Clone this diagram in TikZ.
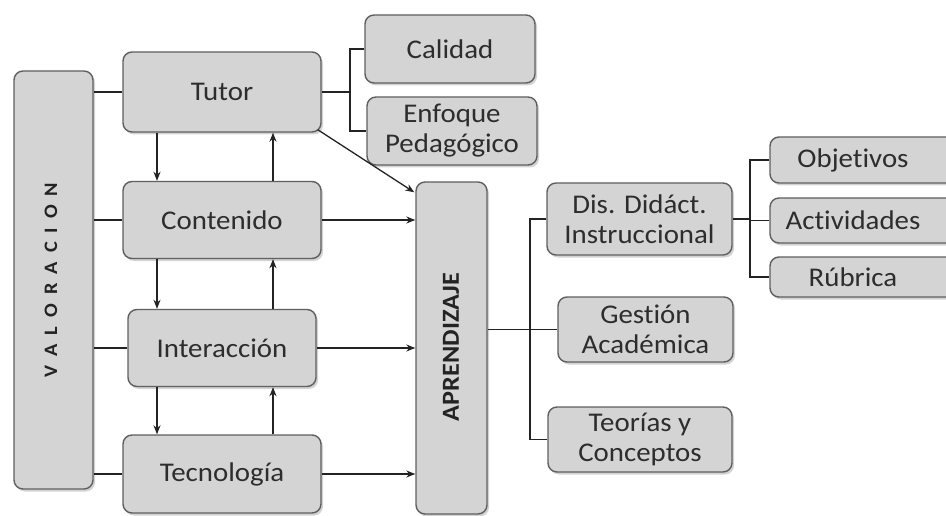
\documentclass[tikz,border=0pt]{standalone}
\usepackage{fontspec}
\setmainfont{Carlito}[Ligatures=NoCommon,FakeStretch=1.07]
\usetikzlibrary{shadows,arrows.meta,calc}
\definecolor{boxfill}{RGB}{212,212,212}
\definecolor{boxline}{RGB}{95,95,95}
\definecolor{txt}{RGB}{45,45,45}
\definecolor{conn}{RGB}{35,35,35}
\begin{document}
\begin{tikzpicture}[x=1pt,y=-1pt,
  box/.style={draw=boxline,line width=1.4pt,fill=boxfill,rounded corners=9pt,
    drop shadow={shadow xshift=2pt,shadow yshift=-2.5pt,opacity=0.35},
    text=txt,align=center,inner sep=0pt,
    font=\fontsize{27}{30}\selectfont},
  conline/.style={draw=conn,line width=1.3pt},
  arr/.style={conline,-{Stealth[length=9pt,width=7pt]}}]
\useasboundingbox (0,0) rectangle (946,516);
\begin{scope}
\clip (0,0) rectangle (946,516);
% left column
\node[box,minimum width=79pt,minimum height=418pt] (valor) at (53.5,280) {};
\node[rotate=90,text=conn,font=\bfseries\fontsize{19}{21}\selectfont] at (51,280)
  {V\hspace{9pt}A\hspace{9pt}L\hspace{9pt}O\hspace{9pt}R\hspace{9pt}A\hspace{9pt}C\hspace{9pt}I\hspace{9pt}O\hspace{9pt}N};
\node[box,minimum width=198pt,minimum height=80pt] (tutor) at (222,92) {Tutor};
\node[box,minimum width=198pt,minimum height=77pt] (cont) at (222,220) {Contenido};
\node[box,minimum width=188pt,minimum height=77pt] (inter) at (222,348) {Interacción};
\node[box,minimum width=198pt,minimum height=78pt] (tecno) at (222,474) {Tecnología};
% top
\node[box,minimum width=170pt,minimum height=68pt] (calidad) at (450,49) {Calidad};
\node[box,minimum width=170pt,minimum height=68pt] (enfoque) at (452,131) {Enfoque\\Pedagógico};
% center
\node[box,minimum width=71pt,minimum height=332pt] (aprend) at (451.5,348) {};
\node[rotate=90,text=conn,font=\bfseries\fontsize{24.5}{26}\selectfont] at (451,347) {APRENDIZAJE};
% right
\node[box,minimum width=185pt,minimum height=72pt] (dis) at (639.5,219) {Dis. Didáct.\\Instruccional};
\node[box,minimum width=175pt,minimum height=65pt] (gest) at (645.5,329.5) {Gestión\\Académica};
\node[box,minimum width=184pt,minimum height=65pt] (teor) at (640,439.5) {Teorías y\\Conceptos};
\node[box,minimum width=192pt,minimum height=46pt] (obj) at (866,160) {\hspace*{-26pt}Objetivos};
\node[box,minimum width=192pt,minimum height=45pt] (act) at (866,220.5) {\hspace*{-26pt}Actividades};
\node[box,minimum width=192pt,minimum height=40pt] (rub) at (866,277) {\hspace*{-26pt}Rúbrica};
\end{scope}
% bracket x positions
\coordinate (b1) at (350,0);
\coordinate (b2) at (530,0);
\coordinate (b3) at (750,0);
% valoracion links
\foreach \n in {tutor,cont,inter,tecno}
  \draw[conline] (valor.east |- \n.west) -- (\n.west);
% vertical arrows
\coordinate (dx) at (157,0);
\coordinate (ux) at (273,0);
\draw[arr] (tutor.south -| dx) -- (cont.north -| dx);
\draw[arr] (cont.south -| dx) -- (inter.north -| dx);
\draw[arr] (inter.south -| dx) -- (tecno.north -| dx);
\draw[arr] (cont.north -| ux) -- (tutor.south -| ux);
\draw[arr] (inter.north -| ux) -- (cont.south -| ux);
\draw[arr] (tecno.north -| ux) -- (inter.south -| ux);
% to aprendizaje
\coordinate (tipd) at ($(aprend.north west)+(-1,11)$);
\draw[arr] ($(tutor.south east)+(-4,-3)$) -- (tipd);
\draw[arr] (cont.east) -- (cont.east -| aprend.west);
\draw[arr] (inter.east) -- (inter.east -| aprend.west);
\draw[arr] (tecno.east) -- (tecno.east -| aprend.west);
% tutor bracket
\draw[conline] (tutor.east) -- (tutor.east -| b1);
\draw[conline] (calidad.west) -- (calidad.west -| b1) -- (enfoque.west -| b1) -- (enfoque.west);
% aprendizaje bracket
\draw[conline] (aprend.east |- gest.west) -- (gest.west);
\draw[conline] (dis.west) -- (dis.west -| b2) -- (teor.west -| b2) -- (teor.west);
% dis bracket
\draw[conline] (dis.east) -- (dis.east -| b3);
\draw[conline] (obj.west) -- (obj.west -| b3) -- (rub.west -| b3) -- (rub.west);
\draw[conline] (act.west) -- (act.west -| b3);
\end{tikzpicture}
\end{document}
